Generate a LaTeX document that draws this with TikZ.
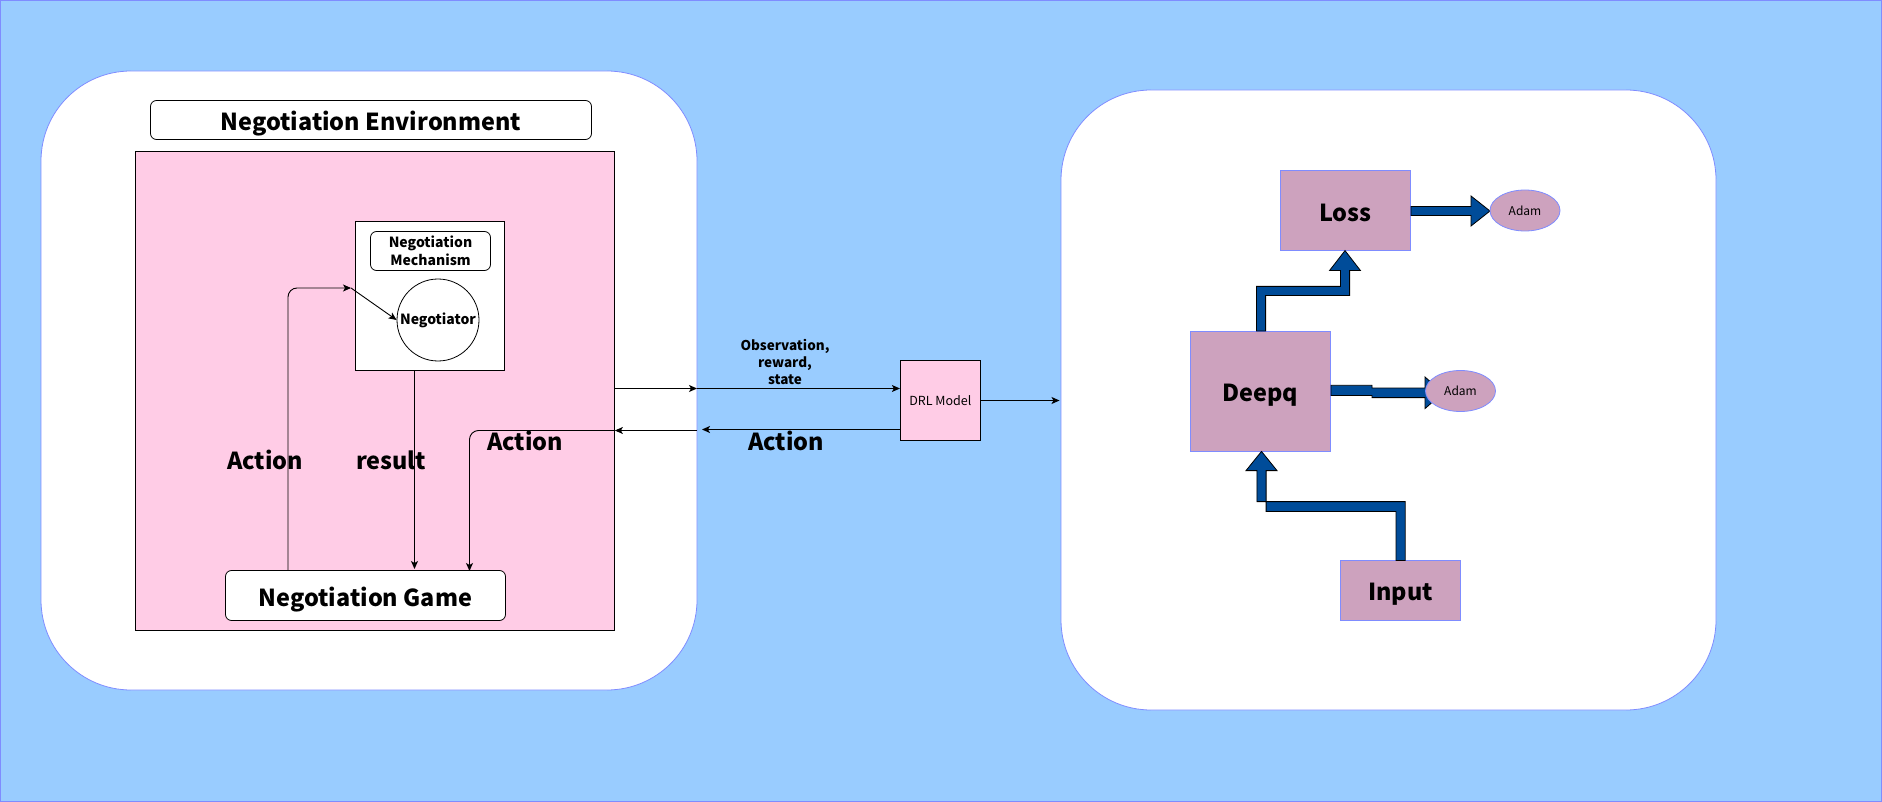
\documentclass[tikz,border=0pt]{standalone}
\usepackage{fontspec}
\setmainfont{Noto Sans CJK SC}
\usetikzlibrary{arrows.meta,shapes.geometric,calc}
\definecolor{bgblue}{HTML}{99CCFF}
\definecolor{edgeblue}{HTML}{7F8CFF}
\definecolor{pinkfill}{HTML}{FFCCE6}
\definecolor{mauve}{HTML}{CDA2BE}
\definecolor{flexblue}{HTML}{004C99}
\tikzset{
  panel/.style={draw=edgeblue, fill=white, rounded corners=90pt, line width=0.8pt},
  plainbox/.style={draw=black, line width=0.8pt, inner sep=0pt},
  titlebox/.style={draw=black, fill=white, rounded corners=6pt, line width=0.8pt, inner sep=0pt, font=\bfseries},
  bigfont/.style={font=\bfseries\fontsize{23.4}{28}\selectfont, text height=24pt, text depth=3pt},
  nnbox/.style={draw=edgeblue, fill=mauve, line width=0.8pt, inner sep=0pt, bigfont},
  adam/.style={ellipse, draw=edgeblue, fill=mauve, line width=0.8pt, inner sep=0pt, minimum width=70pt, minimum height=41pt, font=\fontsize{12}{14}\selectfont},
  conn/.style={draw=black, line width=0.9pt, -{Stealth[length=8pt,width=7pt,inset=2pt]}},
  flex/.style={draw=black, fill=flexblue, line width=0.8pt},
  biglabel/.style={bigfont, inner sep=0pt},
}
\begin{document}
\begin{tikzpicture}[x=1pt,y=-1pt]
% background
\path[fill=bgblue, draw=edgeblue, line width=1pt] (0.5,0.5) rectangle (1881.5,801.5);
\useasboundingbox (0,0) rectangle (1882,802);

% panels
\path[panel] (41,71) rectangle (697,690);
\path[panel] (1061,90) rectangle (1716,710);

% ---------- left panel ----------
\node[titlebox, bigfont, minimum width=441pt, minimum height=39pt] (envtitle) at (371,120) {Negotiation Environment};
\node[plainbox, fill=pinkfill, minimum width=479pt, minimum height=479pt] (env) at (375,391) {};
\node[plainbox, fill=white, minimum width=149pt, minimum height=149pt] (mech) at (430,296) {};
\node[titlebox, minimum width=120pt, minimum height=39pt, font=\bfseries\fontsize{14}{17.5}\selectfont, align=center] (mechtitle) at (430.5,251) {Negotiation\\Mechanism};
\node[circle, draw=black, fill=white, line width=0.8pt, minimum size=82pt, inner sep=0pt] (negotiator) at (438,320) {};
\node[font=\bfseries\fontsize{14}{16}\selectfont, inner sep=0pt] (negtext) at (negotiator.center) {Negotiator};
\node[titlebox, bigfont, minimum width=280pt, minimum height=50pt] (game) at (365.5,595.5) {Negotiation Game};

\coordinate (actpt) at (351,288);
\draw[conn, rounded corners=9pt] (288,570.4) -- (288,288) -- (actpt);
\draw[conn] (actpt) -- (negotiator.west);
\draw[conn] (414.5,370) -- (414.5,569);
\draw[conn, rounded corners=9pt] (env.east |- 0,430.5) -- (469.5,430.5) -- (469.5,571);

\node[biglabel] (lblact1) at (265,458.7) {Action};
\node[biglabel] (lblres) at (391,458.7) {result};
\node[biglabel] (lblact2) at (525,439.7) {Action};

% ---------- middle ----------
\node[plainbox, fill=pinkfill, minimum width=80pt, minimum height=80pt, font=\fontsize{12.5}{14}\selectfont] (drl) at (940.3,400.3) {DRL Model};
\coordinate (obsmid) at (697,388.5);
\coordinate (actmid) at (697,430.5);
\coordinate (rpanel) at (1059.5,400.5);
\draw[conn] (env.east |- obsmid) -- (obsmid);
\draw[conn] (obsmid) -- (drl.west |- obsmid);
\draw[conn] (drl.west |- 0,429.5) -- ($(actmid)+(5,-1)$);
\draw[conn] (actmid) -- (env.east |- actmid);
\draw[conn] (drl.east |- rpanel) -- (rpanel);

\node[font=\bfseries\fontsize{13.5}{16.7}\selectfont, align=center, inner sep=0pt] (obslbl) at (785,362) {Observation,\\reward,\\state};
\node[biglabel] (lblact3) at (786,439.7) {Action};

% ---------- right panel ----------
\node[nnbox, minimum width=130pt, minimum height=80pt] (loss) at (1345.3,210.6) {Loss};
\node[nnbox, minimum width=140pt, minimum height=120pt] (deepq) at (1260.5,391) {Deepq};
\node[nnbox, minimum width=120pt, minimum height=60pt] (input) at (1400.5,590.2) {Input};

% flex arrows
\path[flex] (1396,560.4) -- (1396,511.4) -- (1266.1,511.4) -- (1266.1,470.6) -- (1277,470.6)
  -- (1261.5,451.4) -- (1246,470.6) -- (1256.9,470.6) -- (1256.9,501.6) -- (1405.2,501.6)
  -- (1405.2,560.4) -- cycle;
\path[flex] (1256.5,331) -- (1256.5,286.4) -- (1340.4,286.4) -- (1340.4,270.6) -- (1329.5,270.6)
  -- (1345,250.6) -- (1360.5,270.6) -- (1349.6,270.6) -- (1349.6,295.6) -- (1265.6,295.6)
  -- (1265.6,331) -- cycle;
\path[flex] (1411,206.5) -- (1471,206.5) -- (1471,196) -- (1490,211) -- (1471,226) -- (1471,215.5)
  -- (1411,215.5) -- cycle;
\path[flex] (1331,385.3) -- (1372,385.3) -- (1372,388) -- (1425,388) -- (1425,377) -- (1443,392.8)
  -- (1425,408.6) -- (1425,397.6) -- (1372,397.6) -- (1372,395.5) -- (1331,395.5) -- cycle;

\node[adam] (adam1) at (1525,210.5) {Adam};
\node[adam] (adam2) at (1460.5,391) {Adam};
\end{tikzpicture}
\end{document}
